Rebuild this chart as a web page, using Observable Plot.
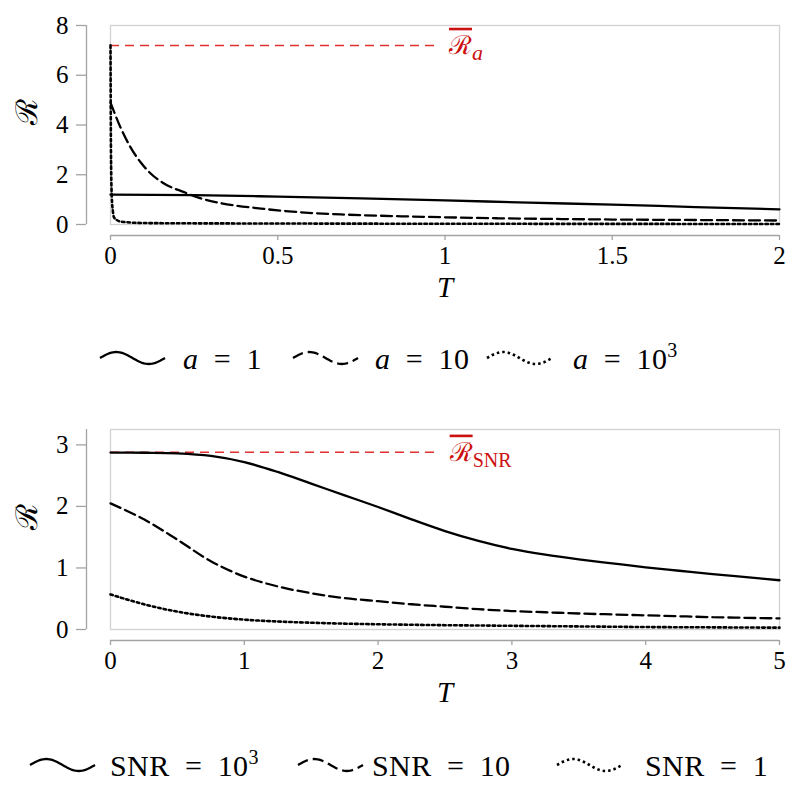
<!DOCTYPE html>
<html><head><meta charset="utf-8">
<script src="https://cdn.jsdelivr.net/npm/d3@7"></script>
<script src="https://cdn.jsdelivr.net/npm/@observablehq/plot@0.6"></script>
<style>
body{margin:0;background:#fff;}
#root{position:relative;width:800px;height:791px;overflow:hidden;background:#fff;}
#root > *{position:absolute;left:0;}
</style></head><body><div id="root"></div>
<script>
// ---------- DATA ----------
const a1_T = [0, 0.25, 0.5, 0.75, 1, 1.25, 1.5, 1.75, 2];
const a1_R = [1.2, 1.18, 1.12, 1.05, 0.97, 0.88, 0.8, 0.7, 0.61];
const a10_T = [0, 0.03, 0.06, 0.09, 0.12, 0.16, 0.22, 0.27, 0.33, 0.45, 0.57, 0.7, 0.87, 1.0, 1.16, 1.35, 1.5, 1.75, 2];
const a10_R = [4.9, 3.9, 3.1, 2.5, 2.05, 1.65, 1.3, 1.05, 0.86, 0.64, 0.49, 0.4, 0.33, 0.29, 0.25, 0.22, 0.2, 0.18, 0.16];
const a1000_T = [0, 0.0005, 0.001, 0.002, 0.004, 0.007, 0.01, 0.02, 0.03, 0.05, 0.07, 0.1, 0.2, 0.5, 1, 1.5, 2];
const a1000_R = [7.2, 5.5, 3.8, 2.2, 1.1, 0.55, 0.3, 0.17, 0.12, 0.09, 0.07, 0.06, 0.05, 0.04, 0.03, 0.025, 0.02];
const topRefValue = 7.2, topRefEnd = 0.97;
const topXTicks = [0, 0.5, 1, 1.5, 2];
const topYTicks = [0, 2, 4, 6, 8];
const topXDomain = [0, 2], topYDomain = [0, 8];

const s_T = [0, 0.25, 0.5, 0.75, 1, 1.25, 1.5, 1.75, 2, 2.25, 2.5, 2.75, 3, 3.25, 3.5, 3.75, 4, 4.25, 4.5, 4.75, 5];
const s1000_R = [2.875, 2.872, 2.862, 2.82, 2.72, 2.56, 2.37, 2.18, 1.99, 1.79, 1.6, 1.44, 1.31, 1.215, 1.14, 1.075, 1.01, 0.955, 0.9, 0.85, 0.8];
const s10_R = [2.05, 1.79, 1.46, 1.11, 0.86, 0.7, 0.59, 0.51, 0.46, 0.41, 0.37, 0.33, 0.3, 0.28, 0.26, 0.245, 0.23, 0.215, 0.2, 0.19, 0.18];
const s1_R = [0.57, 0.41, 0.29, 0.21, 0.16, 0.13, 0.11, 0.095, 0.085, 0.077, 0.07, 0.065, 0.06, 0.055, 0.05, 0.045, 0.04, 0.037, 0.035, 0.032, 0.03];
const botRefValue = 2.88, botRefEnd = 2.43;
const botXTicks = [0, 1, 2, 3, 4, 5];
const botYTicks = [0, 1, 2, 3];
const botXDomain = [0, 5], botYDomain = [0, 3.25];

const EQ = "\u2002=\u2002";
const topLegend = [
  [{t: "a", i: true}, {t: EQ + "1"}],
  [{t: "a", i: true}, {t: EQ + "10"}],
  [{t: "a", i: true}, {t: EQ + "10"}, {t: "3", sup: true}]
];
const botLegend = [
  [{t: "SNR" + EQ + "10"}, {t: "3", sup: true}],
  [{t: "SNR" + EQ + "10"}],
  [{t: "SNR" + EQ + "1"}]
];

// ---------- STYLES / LAYOUT ----------
const FRAME = "#d2d2d2", AXIS = "#a3a3a3";
const SERIF = "Liberation Serif";
const SCRIPT = "DejaVu Serif";
const lineStyles = [
  {strokeWidth: 2.3, dash: null},
  {strokeWidth: 2.3, dash: "11,5"},
  {strokeWidth: 2.6, dash: "2.5,3"}
];

function panel({series, xDomain, yDomain, xTicks, yTicks, refValue, refEnd, marker, height, marginTop, marginBottom, curve}) {
  const marks = [
    Plot.frame({stroke: FRAME, strokeWidth: 1.3}),
    Plot.ruleX([{x: xDomain[0], y1: yDomain[0], y2: yDomain[1]}], {x: "x", y1: "y1", y2: "y2", dx: -24, stroke: AXIS, strokeWidth: 1.3}),
    Plot.axisY({ticks: yTicks, tickSize: 10, tickPadding: 8, dx: -24, stroke: AXIS, strokeWidth: 1.3, fill: "black", label: null, tickFormat: d => String(d), fontFamily: SERIF, fontSize: 25}),
    Plot.ruleY([{y: yDomain[0], x1: xDomain[0], x2: xDomain[1]}], {y: "y", x1: "x1", x2: "x2", dy: 11, stroke: AXIS, strokeWidth: 1.3}),
    Plot.axisX({ticks: xTicks, tickSize: 5, tickPadding: 6, dy: 11, stroke: AXIS, strokeWidth: 1.3, fill: "black", label: null, tickFormat: d => String(d), fontFamily: SERIF, fontSize: 25}),
    Plot.ruleY([{y: refValue, x1: xDomain[0], x2: refEnd}], {y: "y", x1: "x1", x2: "x2", stroke: "#e03030", strokeWidth: 1.5, strokeDasharray: "9,6"}),
    Plot.text([{x: refEnd, y: refValue}], {x: "x", y: "y", text: () => marker, textAnchor: "start", dx: 14, fill: "#cc1010", fontSize: 26, fontFamily: SCRIPT}),
    Plot.text(["T"], {frameAnchor: "bottom", dy: 63, text: d => d, fontStyle: "italic", fontSize: 29, fontFamily: SERIF, lineAnchor: "middle"}),
    Plot.text(["ℛ"], {frameAnchor: "left", dx: -83, rotate: -90, text: d => d, fontSize: 30, fontFamily: SCRIPT, lineAnchor: "middle"})
  ];
  series.forEach((s, k) => {
    const data = s.T.map((t, i) => ({T: t, R: s.R[i]}));
    const st = lineStyles[k];
    marks.push(Plot.line(data, {x: "T", y: "R", stroke: "black", strokeWidth: st.strokeWidth, strokeDasharray: st.dash, curve}));
  });
  return Plot.plot({
    width: 800, height, marginLeft: 110, marginRight: 21, marginTop, marginBottom,
    x: {domain: xDomain}, y: {domain: yDomain},
    style: {fontFamily: SERIF, fontSize: "25px", color: "black", background: "white", overflow: "visible"},
    marks
  });
}

function decorate(svg, marker, sub, italicSub) {
  d3.select(svg).selectAll("text").filter(function() { return this.textContent === marker; }).each(function() {
    const t = d3.select(this);
    t.text(null);
    t.append("tspan").style("text-decoration", "overline").text("ℛ");
    t.append("tspan").attr("dy", "0.3em").attr("font-size", italicSub ? "22px" : "20px")
      .attr("font-family", SERIF).attr("font-style", italicSub ? "italic" : "normal").text(sub);
  });
}

function legend(items, waveX, textX, top) {
  const svg = d3.create("svg").attr("width", 800).attr("height", 50).style("top", top + "px");
  const cy = 25, W = 65, A = 6;
  items.forEach((parts, k) => {
    const pts = d3.range(0, 41).map(i => [waveX[k] + W * i / 40, cy - A * Math.sin(2 * Math.PI * i / 40)]);
    const st = lineStyles[k];
    svg.append("path").attr("d", d3.line()(pts)).attr("fill", "none").attr("stroke", "black")
      .attr("stroke-width", st.strokeWidth).attr("stroke-dasharray", st.dash);
    const tx = svg.append("text").attr("x", textX[k]).attr("y", cy).attr("dy", "0.35em")
      .attr("font-family", SERIF).attr("font-size", 30).attr("letter-spacing", 0.4);
    parts.forEach(p => {
      const ts = tx.append("tspan").text(p.t);
      if (p.i) ts.attr("font-style", "italic");
      if (p.sup) ts.attr("font-size", 20).attr("dy", "-0.6em");
    });
  });
  return svg.node();
}

const root = document.getElementById("root");
const p1 = panel({
  series: [{T: a1_T, R: a1_R}, {T: a10_T, R: a10_R}, {T: a1000_T, R: a1000_R}],
  xDomain: topXDomain, yDomain: topYDomain, xTicks: topXTicks, yTicks: topYTicks,
  refValue: topRefValue, refEnd: topRefEnd, marker: "REF_A", height: 310, marginTop: 25, marginBottom: 86,
  curve: "monotone-x"
});
decorate(p1, "REF_A", "a", true);
p1.style.top = "0px";
root.appendChild(p1);
root.appendChild(legend(topLegend, [100, 293, 487], [183, 375, 573], 333));

const p2 = panel({
  series: [{T: s_T, R: s1000_R}, {T: s_T, R: s10_R}, {T: s_T, R: s1_R}],
  xDomain: botXDomain, yDomain: botYDomain, xTicks: botXTicks, yTicks: botYTicks,
  refValue: botRefValue, refEnd: botRefEnd, marker: "REF_SNR", height: 320, marginTop: 29, marginBottom: 91,
  curve: "catmull-rom"
});
decorate(p2, "REF_SNR", "SNR", false);
p2.style.top = "400px";
root.appendChild(p2);
root.appendChild(legend(botLegend, [30, 298, 557], [110, 372, 645], 740));
</script></body></html>
